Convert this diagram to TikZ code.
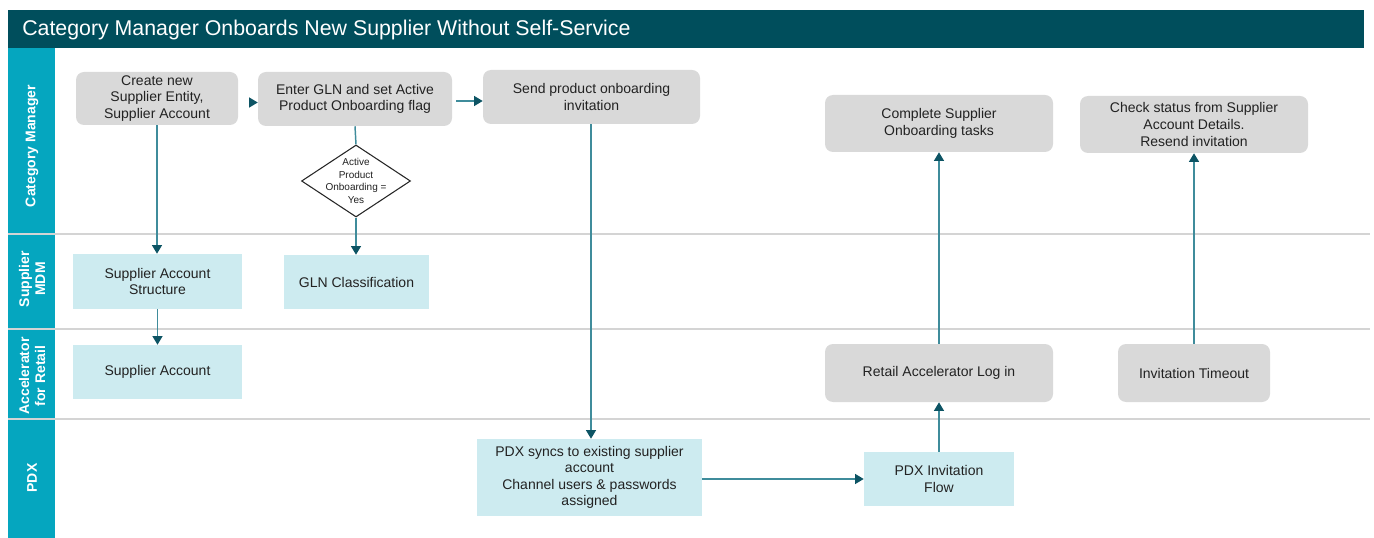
\documentclass[tikz,border=0pt]{standalone}
\usepackage{fontspec}
\setmainfont{Liberation Sans}
\usetikzlibrary{arrows.meta,shapes.geometric}
\definecolor{titlebg}{HTML}{004E5C}
\definecolor{lanebg}{HTML}{05A6BF}
\definecolor{graybox}{HTML}{D9D9D9}
\definecolor{bluebox}{HTML}{CDEBF0}
\definecolor{lineC}{HTML}{3F8C9B}
\definecolor{tipC}{HTML}{0D5464}
\definecolor{sepC}{HTML}{D4D4D4}
\definecolor{txtC}{HTML}{222222}
\tikzset{
  gbox/.style={rounded corners=6pt, fill=graybox, draw=none, align=center, inner sep=2pt, text=txtC, font=\fontsize{10.5}{12.4}\selectfont},
  bbox/.style={fill=bluebox, draw=none, align=center, inner sep=2pt, text=txtC, font=\fontsize{10.5}{12.4}\selectfont},
  flow/.style={draw=lineC, line width=1.1pt, -{Triangle[width=7.5pt,length=6.5pt,color=tipC]}},
  plain/.style={draw=lineC, line width=1.1pt},
  lanelabel/.style={rotate=90, text=white, align=center, font=\bfseries\fontsize{10.5}{12}\selectfont},
  sep/.style={draw=sepC, line width=0.8pt},
  dbox/.style={diamond, draw=black!85, line width=0.8pt, fill=white, inner sep=0pt, minimum width=81.75pt, minimum height=54pt},
  dtext/.style={align=center, text=txtC, font=\fontsize{7.5}{9.4}\selectfont}
}
\begin{document}
\begin{tikzpicture}[x=0.75pt,y=-0.75pt]
\useasboundingbox (0,0) rectangle (1374,538);
% title
\fill[titlebg] (8,10) rectangle (1364,48);
\node[anchor=west, text=white, font=\fontsize{16}{19}\selectfont, inner sep=0pt] (title) at (22,29.5) {Category Manager Onboards New Supplier Without Self-Service};
% sidebar
\fill[lanebg] (8,48) rectangle (55,538);
% lane separators
\draw[sep] (8,234) -- (1370,234);
\draw[sep] (8,329) -- (1370,329);
\draw[sep] (8,419) -- (1370,419);
% lane labels
\node[lanelabel] (l1) at (32,146) {Category Manager};
\node[lanelabel] (l2) at (32,279) {Supplier\\MDM};
\node[lanelabel] (l3) at (32,376) {Accelerator\\for Retail};
\node[lanelabel] (l4) at (32,478) {PDX};
% nodes
\node[gbox, minimum width=121.5pt, minimum height=39.75pt] (n1) at (157,98.5) {Create new\\Supplier Entity,\\Supplier Account};
\node[gbox, minimum width=145.5pt, minimum height=40.5pt] (n2) at (355,99) {Enter GLN and set Active\\Product Onboarding flag};
\node[gbox, minimum width=162.75pt, minimum height=40.5pt] (n3) at (591.5,97) {Send product onboarding\\invitation};
\node[gbox, minimum width=171pt, minimum height=42.75pt] (n4) at (939,123.5) {Complete Supplier\\Onboarding tasks};
\node[gbox, minimum width=171pt, minimum height=42.75pt] (n5) at (1194,124.5) {Check status from Supplier\\Account Details.\\Resend invitation};
\node[dbox] (dia) at (356,181) {};
\node[dtext] (diat) at (dia.center) {Active\\Product\\Onboarding =\\Yes};
\node[bbox, minimum width=126.75pt, minimum height=41.25pt] (n6) at (157.5,281.5) {Supplier Account\\Structure};
\node[bbox, minimum width=108.75pt, minimum height=40.5pt] (n7) at (356.5,282) {GLN Classification};
\node[bbox, minimum width=126.75pt, minimum height=40.5pt] (n8) at (157.5,372) {Supplier Account};
\node[gbox, minimum width=171pt, minimum height=43.5pt] (n9) at (939,373) {Retail Accelerator Log in};
\node[gbox, minimum width=114pt, minimum height=43.5pt] (n10) at (1194,373) {Invitation Timeout};
\node[bbox, minimum width=168.75pt, minimum height=57.75pt] (n11) at (589.5,477.5) {PDX syncs to existing supplier\\account\\Channel users \& passwords\\assigned};
\node[bbox, minimum width=112.5pt, minimum height=40.5pt] (n12) at (939,479) {PDX Invitation\\Flow};
% connectors
\draw[flow, shorten <=9pt] ([yshift=-3pt]n1.east) -- ([yshift=-3pt]n1.east -| n2.west);
\draw[flow, shorten <=3pt] ([yshift=-1.5pt]n2.east) -- ([yshift=-1.5pt]n2.east -| n3.west);
\draw[flow] (n1.south) -- (n6.north -| n1.south);
\draw[flow] (n6.south) -- (n8.north);
\draw[plain] (n2.south) -- (dia.north);
\draw[flow] (dia.south) -- (n7.north -| dia.south);
\draw[flow] (n3.south -| 591,0) -- (n11.north -| 591,0);
\draw[flow] (n11.east |- n12.west) -- (n12.west);
\draw[flow] (n12.north) -- (n9.south);
\draw[flow] (n9.north) -- (n4.south);
\draw[flow] (n10.north) -- (n5.south);
\end{tikzpicture}
\end{document}
